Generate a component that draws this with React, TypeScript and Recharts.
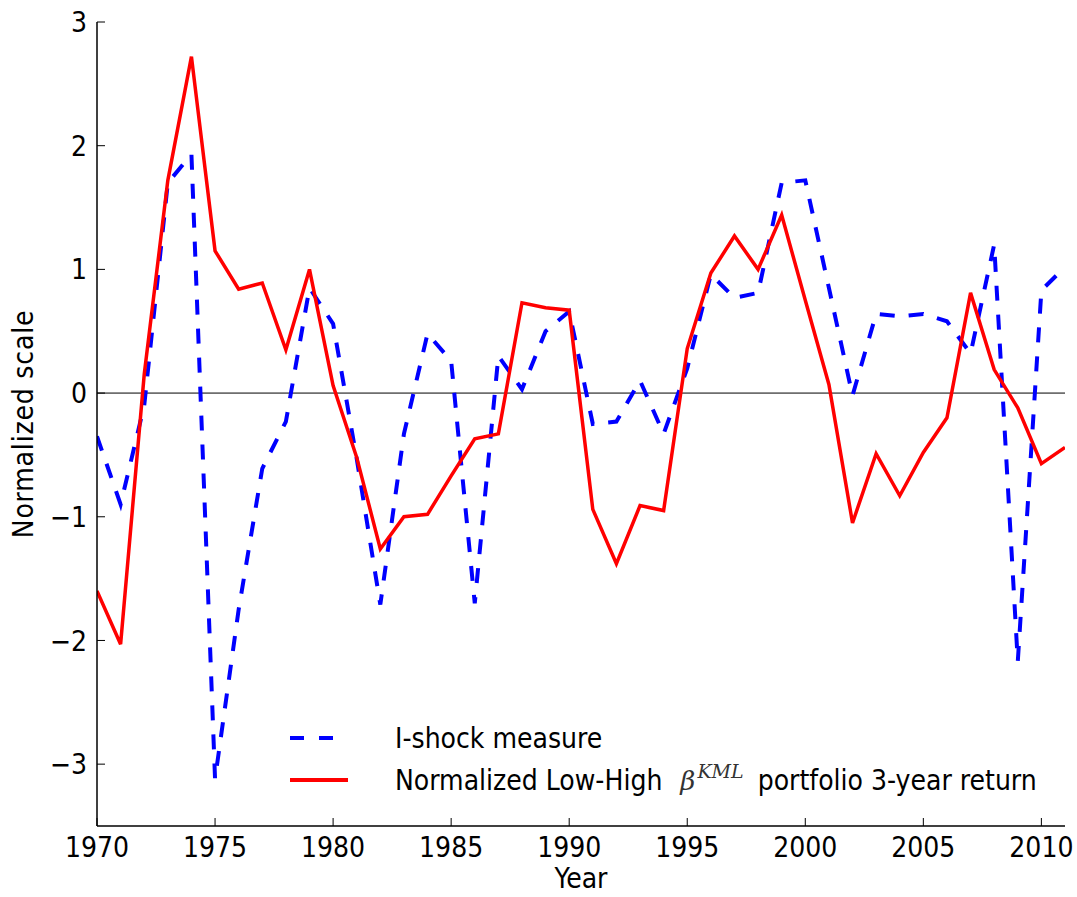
import React from 'react';
import { LineChart, Line, XAxis, YAxis, ReferenceLine, Legend } from 'recharts';

const years = [
  1970, 1971, 1972, 1973, 1974, 1975, 1976, 1977, 1978, 1979,
  1980, 1981, 1982, 1983, 1984, 1985, 1986, 1987, 1988, 1989,
  1990, 1991, 1992, 1993, 1994, 1995, 1996, 1997, 1998, 1999,
  2000, 2001, 2002, 2003, 2004, 2005, 2006, 2007, 2008, 2009,
  2010, 2011,
];

const iShock = [
  -0.35, -0.9, -0.1, 1.7, 1.93, -3.12, -1.75, -0.61, -0.23, 0.85,
  0.56, -0.53, -1.71, -0.33, 0.48, 0.26, -1.7, 0.3, 0.03, 0.5,
  0.66, -0.25, -0.23, 0.1, -0.33, 0.2, 0.96, 0.77, 0.81, 1.7,
  1.72, 0.85, -0.02, 0.64, 0.62, 0.64, 0.58, 0.32, 1.2, -2.17,
  0.83, 1.02,
];

const lowHigh = [
  -1.6, -2.03, 0.15, 1.72, 2.72, 1.15, 0.84, 0.89, 0.35, 1.0,
  0.06, -0.52, -1.26, -1.0, -0.98, -0.67, -0.37, -0.33, 0.73, 0.69,
  0.67, -0.94, -1.38, -0.91, -0.95, 0.36, 0.97, 1.27, 1.0, 1.44,
  0.75, 0.07, -1.05, -0.49, -0.83, -0.48, -0.2, 0.81, 0.19, -0.12,
  -0.57, -0.44,
];

const xTicks = [1970, 1975, 1980, 1985, 1990, 1995, 2000, 2005, 2010];
const yTicks = [-3, -2, -1, 0, 1, 2, 3];

const data = years.map((y, i) => ({ year: y, ishock: iShock[i], lowhigh: lowHigh[i] }));

const FONT = '"DejaVu Sans Condensed", "DejaVu Sans", sans-serif';
const FS = 28;
const TS = 6;
const TM = 3;
const INNER_TICK = 8;

const fmt = (v: number) => (v < 0 ? '\u2212' + Math.abs(v) : String(v));

const YTick = (props: any) => {
  const { x, y, payload } = props;
  const ax = x + TS + TM;
  return (
    <g>
      <line x1={ax} x2={ax + INNER_TICK} y1={y} y2={y} stroke="#000" strokeWidth={1} />
      <text x={x - 1} y={y} dy="0.36em" textAnchor="end" fontFamily={FONT} fontSize={FS} fill="#000">
        {fmt(payload.value)}
      </text>
    </g>
  );
};

const XTick = (props: any) => {
  const { x, y, payload } = props;
  const ay = y - TS - TM;
  return (
    <g>
      <line x1={x} x2={x} y1={ay} y2={ay - INNER_TICK} stroke="#000" strokeWidth={1} />
      <text x={x} y={y} dy="0.78em" textAnchor="middle" fontFamily={FONT} fontSize={FS} fill="#000">
        {payload.value}
      </text>
    </g>
  );
};

const YLabel = (props: any) => {
  const vb = props.viewBox || {};
  const cx = (vb.x ?? 0) + 33;
  const cy = (vb.y ?? 0) + (vb.height ?? 0) / 2;
  return (
    <text x={cx} y={cy} transform={`rotate(-90, ${cx}, ${cy})`} textAnchor="middle" fontFamily={FONT} fontSize={FS} letterSpacing={0.8} fill="#000">
      Normalized scale
    </text>
  );
};

const XLabel = (props: any) => {
  const vb = props.viewBox || {};
  const cx = (vb.x ?? 0) + (vb.width ?? 0) / 2;
  const cy = (vb.y ?? 0) + 62;
  return (
    <text x={cx} y={cy} textAnchor="middle" fontFamily={FONT} fontSize={FS} fill="#000">
      Year
    </text>
  );
};

const renderLegend = () => {
  const row: React.CSSProperties = { display: 'flex', alignItems: 'center', height: 42 };
  const txt: React.CSSProperties = { fontFamily: FONT, fontSize: FS, color: '#000', whiteSpace: 'nowrap', marginLeft: 47 };
  return (
    <div>
      <div style={row}>
        <svg width={58} height={10}>
          <line x1={0} x2={58} y1={5} y2={5} stroke="#0000ff" strokeWidth={4} strokeDasharray="14 15" />
        </svg>
        <span style={txt}>I-shock measure</span>
      </div>
      <div style={row}>
        <svg width={58} height={10}>
          <line x1={0} x2={58} y1={5} y2={5} stroke="#ff0000" strokeWidth={4} />
        </svg>
        <span style={txt}>
          Normalized Low-High
          <span style={{ fontFamily: '"DejaVu Serif", serif', fontStyle: 'italic', fontSize: 26, color: '#333', marginLeft: 18, marginRight: 14 }}>
            β
            <sup style={{ fontSize: 19, verticalAlign: 'baseline', position: 'relative', top: -12, marginLeft: 2 }}>KML</sup>
          </span>
          portfolio 3-year return
        </span>
      </div>
    </div>
  );
};

export default function App() {
  return (
    <div style={{ position: 'absolute', left: 0, top: 0, width: 1077, height: 897, background: '#fff' }}>
      <LineChart
        width={1077}
        height={897}
        data={data}
        margin={{ top: 22, right: 12, bottom: 0, left: 0 }}
      >
        <XAxis
          dataKey="year"
          type="number"
          domain={[1970, 2011]}
          ticks={xTicks}
          allowDataOverflow
          height={71}
          tickSize={TS}
          tickMargin={TM}
          tickLine={false}
          tick={<XTick />}
          axisLine={{ stroke: '#000', strokeWidth: 1.5 }}
          label={<XLabel />}
        />
        <YAxis
          type="number"
          domain={[-3.5, 3]}
          ticks={yTicks}
          allowDataOverflow
          width={97}
          tickSize={TS}
          tickMargin={TM}
          tickLine={false}
          tick={<YTick />}
          axisLine={{ stroke: '#000', strokeWidth: 1.5 }}
          label={<YLabel />}
        />
        <ReferenceLine y={0} stroke="#000" strokeWidth={1} />
        <Line
          type="linear"
          dataKey="ishock"
          stroke="#0000ff"
          strokeWidth={4}
          strokeDasharray="15 14"
          dot={false}
          activeDot={false}
          isAnimationActive={false}
        />
        <Line
          type="linear"
          dataKey="lowhigh"
          stroke="#ff0000"
          strokeWidth={3.5}
          dot={false}
          activeDot={false}
          isAnimationActive={false}
        />
        <Legend
          layout="vertical"
          verticalAlign="middle"
          align="center"
          content={renderLegend}
          wrapperStyle={{ left: 290, top: 717, width: 780, height: 84 }}
        />
      </LineChart>
    </div>
  );
}
